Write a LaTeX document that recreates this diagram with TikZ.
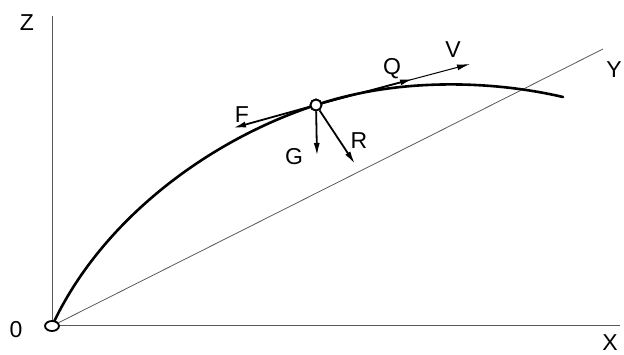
\documentclass[tikz,border=0pt]{standalone}
\usepackage{fontspec}
\setmainfont{Liberation Sans}
\usetikzlibrary{arrows.meta,shapes.geometric}
\begin{document}
\begin{tikzpicture}[x=1pt,y=-1pt,
  axis/.style={line width=1pt, draw=black!65},
  traj/.style={line width=2.6pt, line cap=round},
  force/.style={line width=1.8pt, -{Latex[length=13pt,width=6pt]}},
  thinvec/.style={line width=1pt, -{Latex[length=13pt,width=6pt]}},
  lbl/.style={font=\fontsize{23}{23}\selectfont, inner sep=0pt}]
\useasboundingbox (0,0) rectangle (624,355);
% axes
\coordinate (Ztop) at (52,16);
\coordinate (Xend) at (620,326);
\coordinate (Yend) at (603,49);
\coordinate (O) at (52,326);
\coordinate (Pc) at (316,105);
\coordinate (E) at (563,97);
\draw[axis] (O) -- (Ztop);
\draw[axis] (O) -- (Xend);
\draw[axis, line width=0.8pt] (O) -- (Yend);
% trajectory
\draw[traj] (O) .. controls (100,222) and (206,141) .. (Pc)
                .. controls (396,78) and (490,80) .. (E);
% origin
\node[ellipse, draw, fill=white, line width=1.8pt, minimum width=14pt, minimum height=10pt, inner sep=0pt] (Oc) at (O) {};
% particle
\node[circle, draw, fill=white, line width=1.8pt, minimum size=11pt, inner sep=0pt] (P) at (Pc) {};
\coordinate (Ftip) at (233,128);
\coordinate (Qtip) at (413,79);
\coordinate (Vtip) at (470,64);
\coordinate (Gtip) at (317,156);
\coordinate (Rtip) at (355,164);
\draw[thinvec] (P) -- (Vtip);
\draw[force] (P) -- (Qtip);
\draw[force] (P) -- (Ftip);
\draw[force] (P) -- (Gtip);
\draw[force] (P) -- (Rtip);
\node[circle, draw, fill=white, line width=1.8pt, minimum size=11pt, inner sep=0pt] at (P) {};
% labels
\node[lbl] (lZ) at (27,23) {Z};
\node[lbl] (lX) at (610,343) {X};
\node[lbl] (lY) at (614,70) {Y};
\node[lbl] (l0) at (16,330) {0};
\node[lbl] (lF) at (242,115) {F};
\node[lbl] (lQ) at (392,69) {Q};
\node[lbl] (lV) at (453,50) {V};
\node[lbl] (lG) at (294,157) {G};
\node[lbl] (lR) at (359,141) {R};
\end{tikzpicture}
\end{document}
